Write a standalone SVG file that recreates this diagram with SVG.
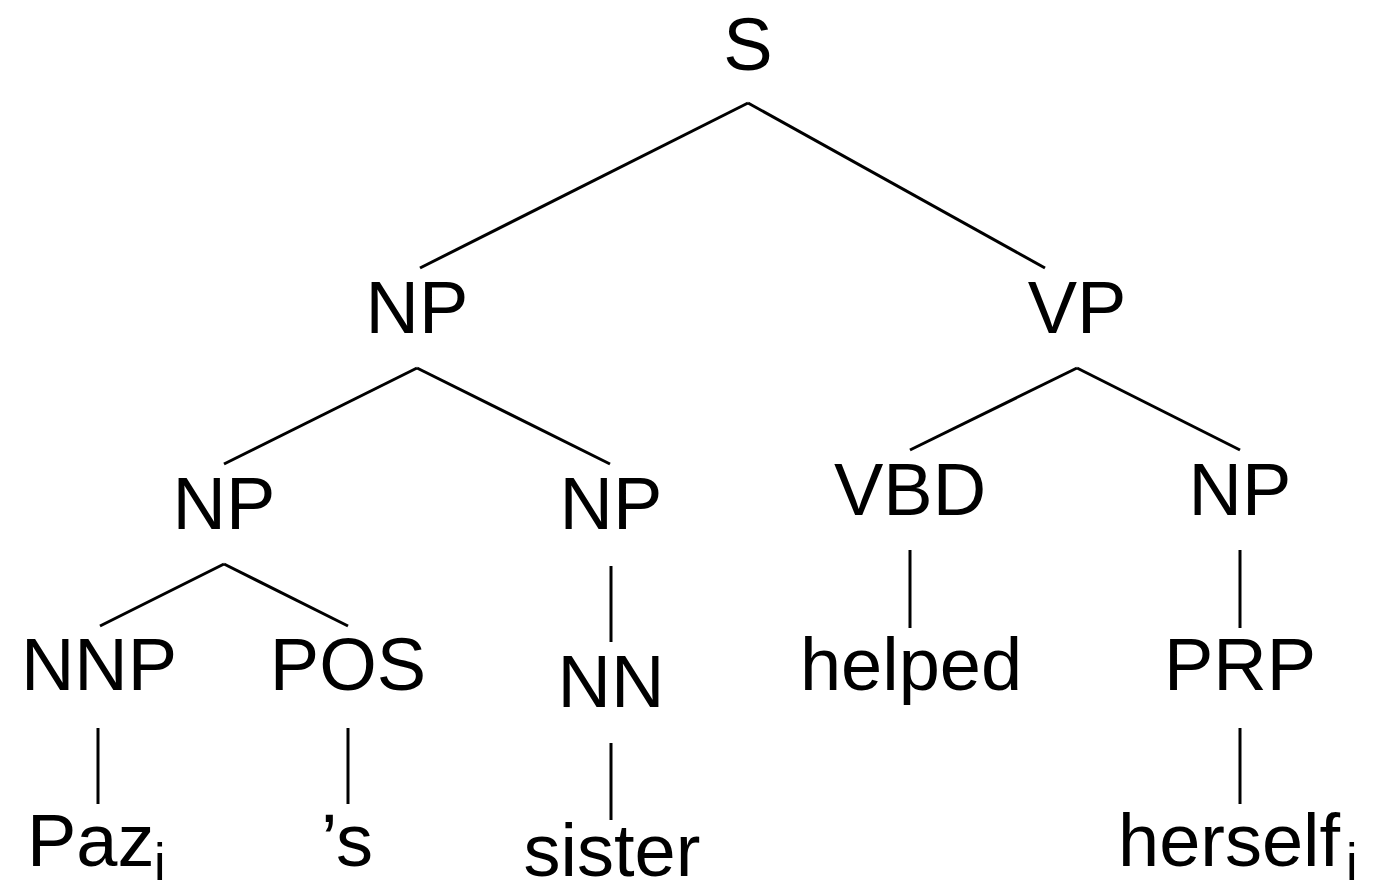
<svg xmlns="http://www.w3.org/2000/svg" width="1389" height="886" viewBox="0 0 1389 886">
  <style>
    .lbl { font-family: "Liberation Sans", Arial, Helvetica, sans-serif; font-size: 74px; fill: #000; text-anchor: middle; }
    .start { text-anchor: start; }
    .sub { font-size: 52px; }
    .edge { stroke: #000; stroke-width: 3; fill: none; stroke-linecap: butt; }
  </style>
  <rect width="1389" height="886" fill="#fff"/>

  <!-- tree edges -->
  <g id="connectors">
    <line class="edge" x1="748" y1="103" x2="420" y2="268"/>
    <line class="edge" x1="748" y1="103" x2="1045" y2="268"/>
    <line class="edge" x1="417" y1="368" x2="224" y2="464"/>
    <line class="edge" x1="417" y1="368" x2="610" y2="464"/>
    <line class="edge" x1="1077" y1="368" x2="910" y2="450"/>
    <line class="edge" x1="1077" y1="368" x2="1240" y2="450"/>
    <line class="edge" x1="224" y1="564" x2="100" y2="626"/>
    <line class="edge" x1="224" y1="564" x2="348" y2="626"/>
    <line class="edge" x1="611" y1="566" x2="611" y2="642"/>
    <line class="edge" x1="910" y1="550" x2="910" y2="628"/>
    <line class="edge" x1="1240" y1="550" x2="1240" y2="628"/>
    <line class="edge" x1="98" y1="728" x2="98" y2="804"/>
    <line class="edge" x1="348" y1="728" x2="348" y2="804"/>
    <line class="edge" x1="611" y1="743" x2="611" y2="820"/>
    <line class="edge" x1="1240" y1="728" x2="1240" y2="804"/>
  </g>

  <!-- phrase and word nodes -->
  <g id="n-S"><text class="lbl" x="748" y="70">S</text></g>
  <g id="n-NP1"><text class="lbl" x="417" y="333">NP</text></g>
  <g id="n-VP"><text class="lbl" x="1077" y="333">VP</text></g>
  <g id="n-NP2"><text class="lbl" x="224" y="529">NP</text></g>
  <g id="n-NP3"><text class="lbl" x="611" y="529">NP</text></g>
  <g id="n-VBD"><text class="lbl" x="910" y="515">VBD</text></g>
  <g id="n-NP4"><text class="lbl" x="1240" y="515">NP</text></g>
  <g id="n-NNP"><text class="lbl" x="99" y="690">NNP</text></g>
  <g id="n-POS"><text class="lbl" x="348" y="690">POS</text></g>
  <g id="n-NN"><text class="lbl" x="611" y="707">NN</text></g>
  <g id="n-helped"><text class="lbl" x="911" y="690">helped</text></g>
  <g id="n-PRP"><text class="lbl" x="1240" y="690">PRP</text></g>
  <g id="n-Paz"><text class="lbl start" x="27" y="866">Paz<tspan class="sub" x="154" y="880">i</tspan></text></g>
  <g id="n-s"><text class="lbl" x="347" y="866">’s</text></g>
  <g id="n-sister"><text class="lbl" x="612" y="876">sister</text></g>
  <g id="n-herself"><text class="lbl start" x="1118" y="866">herself<tspan class="sub" x="1346" y="880">i</tspan></text></g>
</svg>
